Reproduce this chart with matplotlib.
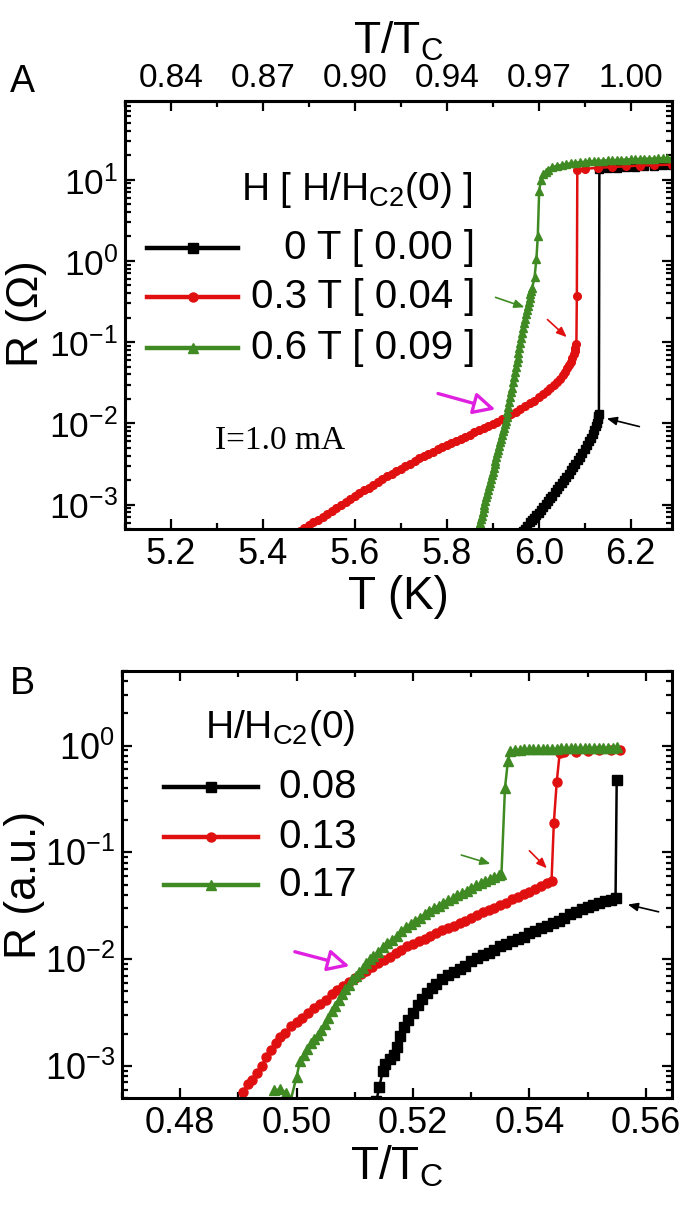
import numpy as np
import matplotlib
matplotlib.use('Agg')
import matplotlib.pyplot as plt
from matplotlib.ticker import LogLocator, MultipleLocator, NullFormatter, FuncFormatter
from matplotlib.lines import Line2D

plt.rcParams['font.family'] = ['Liberation Sans', 'DejaVu Sans']
plt.rcParams['mathtext.fontset'] = 'custom'
plt.rcParams['mathtext.rm'] = 'Liberation Sans'
plt.rcParams['mathtext.it'] = 'Liberation Sans'
plt.rcParams['mathtext.default'] = 'regular'

# ---------------- Panel A data: R (Ohm) vs T (K) ----------------
A_T_0T = [5.962, 5.966, 5.970, 5.975, 5.980, 5.985, 5.990, 5.995, 6.000, 6.005,
          6.010, 6.015, 6.020, 6.025, 6.030, 6.035, 6.040, 6.045, 6.050, 6.055,
          6.060, 6.065, 6.070, 6.075, 6.080, 6.085, 6.090, 6.095, 6.100, 6.105,
          6.110, 6.114, 6.118, 6.121, 6.124, 6.126, 6.128, 6.130, 6.131,
          6.132, 6.15, 6.17, 6.19, 6.21, 6.23, 6.25, 6.27, 6.29]
A_R_0T = [4.37e-4, 4.68e-4, 5.01e-4, 5.50e-4, 6.03e-4, 6.46e-4, 6.92e-4, 7.41e-4, 7.94e-4, 8.61e-4,
          9.33e-4, 1.01e-3, 1.10e-3, 1.19e-3, 1.29e-3, 1.41e-3, 1.55e-3, 1.68e-3, 1.82e-3, 2.00e-3,
          2.19e-3, 2.40e-3, 2.63e-3, 2.88e-3, 3.16e-3, 3.51e-3, 3.89e-3, 4.32e-3, 4.79e-3, 5.37e-3,
          6.03e-3, 6.68e-3, 7.41e-3, 8.32e-3, 9.33e-3, 1.02e-2, 1.12e-2, 1.23e-2, 1.32e-2,
          13.5, 13.8, 14.0, 14.3, 14.5, 14.7, 14.9, 15.0, 15.1]

A_T_03T = [5.470, 5.480, 5.490, 5.500, 5.510, 5.520, 5.530, 5.540, 5.550, 5.560,
           5.570, 5.580, 5.590, 5.600, 5.610, 5.620, 5.630, 5.640, 5.650, 5.660,
           5.670, 5.680, 5.690, 5.700, 5.710, 5.720, 5.730, 5.740, 5.750, 5.760,
           5.770, 5.780, 5.790, 5.800, 5.810, 5.820, 5.830, 5.840, 5.850, 5.860,
           5.870, 5.880, 5.890, 5.900, 5.910, 5.920, 5.930, 5.940, 5.950, 5.960,
           5.970, 5.980, 5.990, 6.000, 6.010, 6.018, 6.025, 6.033, 6.040, 6.046,
           6.052, 6.057, 6.062, 6.066, 6.070, 6.073, 6.076, 6.078, 6.080, 6.082,
           6.083, 6.084, 6.10, 6.13, 6.16, 6.19, 6.22, 6.25, 6.29]
A_R_03T = [4.37e-4, 4.73e-4, 5.13e-4, 5.56e-4, 6.03e-4, 6.53e-4, 7.08e-4, 7.67e-4, 8.32e-4, 9.12e-4,
           1.00e-3, 1.08e-3, 1.17e-3, 1.27e-3, 1.38e-3, 1.50e-3, 1.62e-3, 1.76e-3, 1.91e-3, 2.07e-3,
           2.24e-3, 2.40e-3, 2.57e-3, 2.75e-3, 2.95e-3, 3.20e-3, 3.47e-3, 3.72e-3, 3.98e-3, 4.22e-3,
           4.47e-3, 4.79e-3, 5.13e-3, 5.43e-3, 5.75e-3, 6.10e-3, 6.46e-3, 6.84e-3, 7.24e-3, 7.76e-3,
           8.32e-3, 8.81e-3, 9.33e-3, 9.89e-3, 1.05e-2, 1.12e-2, 1.20e-2, 1.29e-2, 1.38e-2, 1.50e-2,
           1.62e-2, 1.76e-2, 1.91e-2, 2.09e-2, 2.29e-2, 2.48e-2, 2.69e-2, 2.95e-2, 3.24e-2, 3.55e-2,
           3.89e-2, 4.32e-2, 4.79e-2, 5.25e-2, 5.75e-2, 6.38e-2, 7.08e-2, 7.76e-2, 8.51e-2, 9.55e-2,
           0.37, 13.2, 13.6, 14.0, 14.3, 14.6, 14.9, 15.1, 15.3]

A_T_06T = [5.862, 5.864, 5.866, 5.868, 5.870, 5.872, 5.874, 5.876, 5.878, 5.880,
           5.882, 5.884, 5.886, 5.888, 5.890, 5.892, 5.894, 5.896, 5.898, 5.900,
           5.902, 5.904, 5.906, 5.908, 5.910, 5.912, 5.914, 5.916, 5.918, 5.920,
           5.922, 5.924, 5.926, 5.928, 5.930, 5.932, 5.934, 5.936, 5.938, 5.940,
           5.942, 5.944, 5.946, 5.948, 5.950, 5.952, 5.954, 5.956, 5.958, 5.960,
           5.962, 5.964, 5.966, 5.968, 5.970, 5.972, 5.974, 5.976, 5.978, 5.980,
           5.982, 5.984, 5.986, 5.991, 5.995, 5.998, 6.001,
           6.005, 6.010, 6.015, 6.020, 6.030, 6.040, 6.050, 6.060, 6.070, 6.080,
           6.090, 6.100, 6.110, 6.120, 6.130, 6.140, 6.150, 6.160, 6.170, 6.180,
           6.190, 6.200, 6.210, 6.220, 6.230, 6.240, 6.250, 6.260, 6.270, 6.280, 6.290]
A_R_06T = [3.55e-4, 3.94e-4, 4.37e-4, 4.84e-4, 5.37e-4, 5.96e-4, 6.61e-4, 7.33e-4, 8.13e-4, 9.02e-4,
           1.00e-3, 1.11e-3, 1.23e-3, 1.36e-3, 1.51e-3, 1.68e-3, 1.86e-3, 2.07e-3, 2.29e-3, 2.54e-3,
           2.82e-3, 3.13e-3, 3.47e-3, 3.85e-3, 4.27e-3, 4.73e-3, 5.25e-3, 5.82e-3, 6.46e-3, 7.16e-3,
           7.94e-3, 8.81e-3, 9.77e-3, 1.08e-2, 1.20e-2, 1.38e-2, 1.58e-2, 1.82e-2, 2.09e-2, 2.40e-2,
           2.75e-2, 3.20e-2, 3.72e-2, 4.27e-2, 4.90e-2, 5.62e-2, 6.46e-2, 7.41e-2, 8.51e-2, 9.77e-2,
           0.112, 0.129, 0.148, 0.170, 0.195, 0.221, 0.251, 0.282, 0.316, 0.351,
           0.389, 0.427, 0.468, 0.631, 1.05, 2.0, 7.2,
           10.0, 11.7, 12.6, 13.3, 14.2, 14.8, 15.2, 15.6, 15.9, 16.2,
           16.4, 16.6, 16.8, 17.0, 17.1, 17.2, 17.3, 17.4, 17.5, 17.6,
           17.7, 17.8, 17.9, 18.0, 18.1, 18.2, 18.2, 18.3, 18.4, 18.4, 18.5]

A_LABELS = ['0 T [ 0.00 ]', '0.3 T [ 0.04 ]', '0.6 T [ 0.09 ]']
A_XTICKS = [5.2, 5.4, 5.6, 5.8, 6.0, 6.2]
A_TOP_LABELS = ['0.84', '0.87', '0.90', '0.94', '0.97', '1.00']

# ---------------- Panel B data: R (a.u.) vs T/Tc ----------------
B_X_008 = [0.5137, 0.5142, 0.5148, 0.5152, 0.5160, 0.5168, 0.5172, 0.5178, 0.5185, 0.5192,
           0.5200, 0.5208, 0.5216, 0.5224, 0.5232, 0.5240, 0.5250, 0.5260, 0.5270, 0.5280,
           0.5290, 0.5300, 0.5310, 0.5320, 0.5330, 0.5340, 0.5350, 0.5360, 0.5370, 0.5380,
           0.5390, 0.5400, 0.5410, 0.5420, 0.5430, 0.5440, 0.5450, 0.5460, 0.5470, 0.5480,
           0.5490, 0.5500, 0.5510, 0.5520, 0.5530, 0.5540, 0.5548, 0.5550]
B_R_008 = [4.68e-4, 6.31e-4, 8.91e-4, 1.05e-3, 1.17e-3, 1.26e-3, 1.51e-3, 1.91e-3, 2.29e-3, 2.69e-3,
           3.16e-3, 3.72e-3, 4.27e-3, 4.79e-3, 5.37e-3, 5.89e-3, 6.46e-3, 7.08e-3, 7.59e-3, 8.13e-3,
           8.71e-3, 9.55e-3, 1.02e-2, 1.10e-2, 1.15e-2, 1.23e-2, 1.32e-2, 1.38e-2, 1.48e-2, 1.55e-2,
           1.62e-2, 1.74e-2, 1.82e-2, 1.95e-2, 2.04e-2, 2.19e-2, 2.29e-2, 2.45e-2, 2.63e-2, 2.75e-2,
           2.95e-2, 3.09e-2, 3.24e-2, 3.39e-2, 3.47e-2, 3.55e-2, 3.72e-2, 0.48]

B_X_013 = [0.4900, 0.4908, 0.4916, 0.4924, 0.4932, 0.4940, 0.4948, 0.4956, 0.4964, 0.4972,
           0.4980, 0.4990, 0.5000, 0.5010, 0.5020, 0.5030, 0.5040, 0.5050, 0.5060, 0.5070,
           0.5080, 0.5090, 0.5100, 0.5110, 0.5120, 0.5130, 0.5140, 0.5150, 0.5160, 0.5170,
           0.5180, 0.5190, 0.5200, 0.5210, 0.5220, 0.5230, 0.5240, 0.5250, 0.5260, 0.5270,
           0.5280, 0.5290, 0.5300, 0.5310, 0.5320, 0.5330, 0.5340, 0.5350, 0.5360, 0.5370,
           0.5380, 0.5390, 0.5400, 0.5410, 0.5420, 0.5430, 0.5438, 0.5442, 0.5447, 0.5452,
           0.5460, 0.5480, 0.5500, 0.5520, 0.5540, 0.5555]
B_R_013 = [4.57e-4, 5.75e-4, 6.76e-4, 7.41e-4, 8.51e-4, 1.00e-3, 1.20e-3, 1.41e-3, 1.62e-3, 1.86e-3,
           2.04e-3, 2.34e-3, 2.57e-3, 2.82e-3, 3.16e-3, 3.47e-3, 3.80e-3, 4.17e-3, 4.68e-3, 5.13e-3,
           5.62e-3, 6.17e-3, 6.61e-3, 7.24e-3, 7.76e-3, 8.51e-3, 9.12e-3, 9.77e-3, 1.05e-2, 1.15e-2,
           1.23e-2, 1.32e-2, 1.38e-2, 1.48e-2, 1.55e-2, 1.66e-2, 1.74e-2, 1.86e-2, 1.95e-2, 2.04e-2,
           2.19e-2, 2.29e-2, 2.45e-2, 2.57e-2, 2.75e-2, 2.88e-2, 3.02e-2, 3.24e-2, 3.39e-2, 3.63e-2,
           3.80e-2, 4.07e-2, 4.27e-2, 4.57e-2, 4.79e-2, 5.13e-2, 5.37e-2, 0.19, 0.46, 0.85,
           0.87, 0.88, 0.89, 0.90, 0.91, 0.91]

B_X_017 = [0.4962, 0.4972, 0.4982, 0.4990, 0.5000, 0.5006, 0.5012, 0.5018, 0.5024, 0.5030,
           0.5036, 0.5042, 0.5048, 0.5054, 0.5060, 0.5066, 0.5072, 0.5078, 0.5084, 0.5090,
           0.5096, 0.5102, 0.5108, 0.5114, 0.5120, 0.5126, 0.5132, 0.5140, 0.5148, 0.5156,
           0.5164, 0.5172, 0.5180, 0.5188, 0.5196, 0.5204, 0.5212, 0.5220, 0.5228, 0.5236,
           0.5244, 0.5252, 0.5260, 0.5268, 0.5276, 0.5284, 0.5292, 0.5300, 0.5308, 0.5316,
           0.5324, 0.5332, 0.5340, 0.5348, 0.5352, 0.5358, 0.5363, 0.5367,
           0.5375, 0.5383, 0.5391, 0.5399, 0.5407, 0.5415, 0.5423, 0.5431, 0.5439, 0.5447,
           0.5455, 0.5463, 0.5471, 0.5479, 0.5487, 0.5495, 0.5503, 0.5511, 0.5519, 0.5527,
           0.5535, 0.5543, 0.5551]
B_R_017 = [5.89e-4, 6.03e-4, 5.62e-4, 4.79e-4, 7.94e-4, 1.12e-3, 1.26e-3, 1.45e-3, 1.62e-3, 1.78e-3,
           1.95e-3, 2.19e-3, 2.45e-3, 2.82e-3, 3.24e-3, 3.63e-3, 4.17e-3, 4.68e-3, 5.25e-3, 5.75e-3,
           6.46e-3, 6.92e-3, 7.59e-3, 8.32e-3, 9.12e-3, 1.00e-2, 1.07e-2, 1.17e-2, 1.29e-2, 1.41e-2,
           1.51e-2, 1.66e-2, 1.82e-2, 2.00e-2, 2.14e-2, 2.29e-2, 2.45e-2, 2.63e-2, 2.82e-2, 3.02e-2,
           3.16e-2, 3.39e-2, 3.55e-2, 3.72e-2, 3.98e-2, 4.17e-2, 4.37e-2, 4.68e-2, 4.90e-2, 5.13e-2,
           5.37e-2, 5.62e-2, 5.89e-2, 6.17e-2, 6.31e-2, 0.40, 0.71, 0.89,
           0.91, 0.91, 0.92, 0.92, 0.92, 0.92, 0.93, 0.93, 0.93, 0.93,
           0.94, 0.94, 0.94, 0.94, 0.95, 0.95, 0.95, 0.95, 0.96, 0.96,
           0.96, 0.96, 0.97]

B_LABELS = ['0.08', '0.13', '0.17']
B_XTICKS = [0.48, 0.50, 0.52, 0.54, 0.56]

BLACK = '#000000'
RED = '#e01010'
GREEN = '#3f8a22'
MAGENTA = '#e020e0'
COLORS = [BLACK, RED, GREEN]
MARKERS = ['s', 'o', '^']

W, H = 681, 1215
fig = plt.figure(figsize=(W / 100, H / 100), dpi=100)


def logfmt(v, pos):
    e = int(round(np.log10(v)))
    return r'10$^{%d}$' % e


def style_axes(ax, xsize, ysize):
    for s in ax.spines.values():
        s.set_linewidth(2.2)
    ax.set_yscale('log')
    ax.yaxis.set_major_locator(LogLocator(base=10, numticks=12))
    ax.yaxis.set_minor_locator(LogLocator(base=10, subs=np.arange(2, 10), numticks=12))
    ax.yaxis.set_minor_formatter(NullFormatter())
    ax.yaxis.set_major_formatter(FuncFormatter(logfmt))
    ax.tick_params(which='both', direction='in', right=True, width=1.6)
    ax.tick_params(which='major', length=7.5)
    ax.tick_params(which='minor', length=4)
    ax.tick_params(axis='x', labelsize=xsize, pad=6)
    ax.tick_params(axis='y', labelsize=ysize, pad=5)


# ---------------- Panel A ----------------
axA = fig.add_axes([125 / W, 1 - 529 / H, 547 / W, 428 / H])
seriesA = [(A_T_0T, A_R_0T), (A_T_03T, A_R_03T), (A_T_06T, A_R_06T)]
for (t, r), c, m in zip(seriesA, COLORS, MARKERS):
    axA.plot(t, r, color=c, marker=m, ms=5.5, mec=c, mfc=c, lw=1.8)
style_axes(axA, 26, 25.5)
axA.set_xlim(5.1, 6.29)
axA.set_ylim(5e-4, 93)
axA.set_xticks(A_XTICKS)
axA.xaxis.set_minor_locator(MultipleLocator(0.1))
axA.tick_params(top=False, which='both')
axA.set_xlabel('T (K)', fontsize=33, labelpad=2)
axA.set_ylabel(r'R ($\Omega$)', fontsize=32, labelpad=0)
secA = axA.secondary_xaxis('top')
secA.set_xticks(A_XTICKS, labels=A_TOP_LABELS)
secA.xaxis.set_minor_locator(MultipleLocator(0.1))
secA.tick_params(which='both', direction='in', width=1.6, labelsize=24, pad=5)
secA.tick_params(which='major', length=7.5)
secA.tick_params(which='minor', length=4)
secA.spines['top'].set_linewidth(2.2)
secA.set_xlabel(r'T/T$_C$', fontsize=32, labelpad=7)

# legend A (manual, right-aligned labels)
axA.text(0.212, 0.769, r'H [ H/H$_{C2}$(0) ]', transform=axA.transAxes,
         fontsize=28, ha='left', va='baseline')
rowsA = [0.656, 0.541, 0.424]
for y, c, m, lab in zip(rowsA, COLORS, MARKERS, A_LABELS):
    axA.add_line(Line2D([0.04, 0.207], [y, y], transform=axA.transAxes, color=c, lw=3.2))
    axA.add_line(Line2D([0.1235], [y], transform=axA.transAxes, color=c, marker=m,
                        ms=6.5, mec=c, mfc=c, lw=0))
    axA.text(0.64, y, lab, transform=axA.transAxes, fontsize=29, ha='right', va='center')

axA.text(5.296, 10 ** -2.22, 'I=1.0 mA', family=['Liberation Serif'], fontsize=24,
         ha='left', va='center')


def arrow(ax, start, end, color, lw=1.2, ms=10, hollow=False):
    if hollow:
        props = dict(arrowstyle='-|>,head_length=0.6,head_width=0.3', lw=lw, ec=color,
                     fc='white', mutation_scale=ms, shrinkA=0, shrinkB=0)
    else:
        props = dict(arrowstyle='-|>,head_length=0.6,head_width=0.25', lw=lw, color=color,
                     mutation_scale=ms, shrinkA=0, shrinkB=0)
    ax.annotate('', xy=end, xytext=start, arrowprops=props)


arrow(axA, (5.906, 10 ** -0.449), (5.969, 10 ** -0.571), GREEN)
arrow(axA, (6.019, 10 ** -0.722), (6.061, 10 ** -0.939), RED)
arrow(axA, (6.219, 10 ** -2.04), (6.148, 10 ** -1.94), BLACK)
arrow(axA, (5.781, 10 ** -1.633), (5.906, 10 ** -1.829), MAGENTA, lw=2.4, ms=22, hollow=True)

fig.text(10 / W, 1 - 82 / H, 'A', fontsize=27, ha='left', va='center')

# ---------------- Panel B ----------------
axB = fig.add_axes([122 / W, 1 - 1098 / H, 550 / W, 427 / H])
seriesB = [(B_X_008, B_R_008), (B_X_013, B_R_013), (B_X_017, B_R_017)]
for (t, r), c, m in zip(seriesB, COLORS, MARKERS):
    axB.plot(t, r, color=c, marker=m, ms=6.5, mec=c, mfc=c, lw=1.8)
style_axes(axB, 26, 26)
axB.set_xlim(0.47, 0.5645)
axB.set_ylim(5e-4, 5)
axB.set_xticks(B_XTICKS)
axB.xaxis.set_major_formatter(FuncFormatter(lambda v, p: '%.2f' % v))
axB.xaxis.set_minor_locator(MultipleLocator(0.01))
axB.tick_params(top=True, which='both')
axB.set_xlabel(r'T/T$_C$', fontsize=33, labelpad=2)
axB.set_ylabel('R (a.u.)', fontsize=32, labelpad=0)

axB.text(0.151, 0.843, r'H/H$_{C2}$(0)', transform=axB.transAxes, fontsize=28,
         ha='left', va='baseline')
rowsB = [0.728, 0.611, 0.498]
for y, c, m, lab in zip(rowsB, COLORS, MARKERS, B_LABELS):
    axB.add_line(Line2D([0.076, 0.247], [y, y], transform=axB.transAxes, color=c, lw=3.2))
    axB.add_line(Line2D([0.162], [y], transform=axB.transAxes, color=c, marker=m,
                        ms=6.5, mec=c, mfc=c, lw=0))
    axB.text(0.285, y, lab, transform=axB.transAxes, fontsize=29, ha='left', va='center')

arrow(axB, (0.5283, 10 ** -1.025), (0.5333, 10 ** -1.108), GREEN)
arrow(axB, (0.5400, 10 ** -0.985), (0.5430, 10 ** -1.149), RED)
arrow(axB, (0.5622, 10 ** -1.557), (0.5569, 10 ** -1.489), BLACK)
arrow(axB, (0.4997, 10 ** -1.931), (0.5091, 10 ** -2.066), MAGENTA, lw=2.4, ms=22, hollow=True)

fig.text(10 / W, 1 - 684 / H, 'B', fontsize=27, ha='left', va='center')

fig.savefig('out.png', dpi=100)
